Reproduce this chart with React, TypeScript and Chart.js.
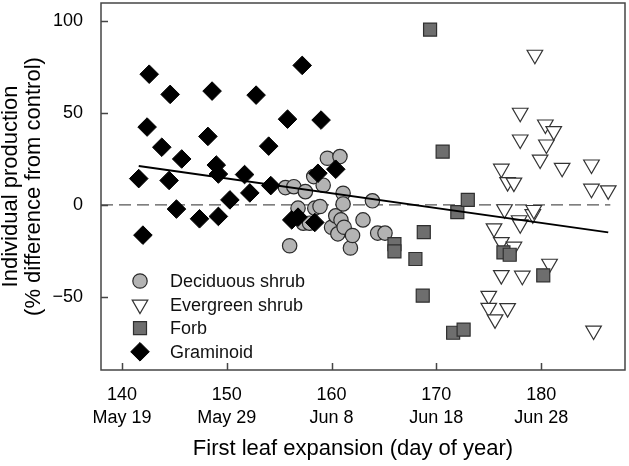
import React, { useEffect, useRef } from "react";
import { Chart, registerables } from "chart.js";
import { drawPoint } from "chart.js/helpers";

Chart.register(...registerables);

// ---- data (day of year, % difference from control) ----
const deciduous: [number, number][] = [
  [155.6, 9.4], [156.4, 9.9], [157.5, 7.2], [156.8, -1.8], [156.0, -22.3],
  [157.3, -10], [157.9, -10], [158.3, 15.4], [158.4, -1.8], [158.9, -0.9],
  [159.2, 10.7], [159.6, 25.4], [160.0, -12.2], [160.4, -6], [160.6, -15.8],
  [160.8, 26.3], [160.9, -8.2], [161.1, 6.3], [161.1, 0.5], [161.2, -12.2],
  [161.8, -23.5], [162.0, -16.7], [163.0, -8.2], [163.9, 2.2], [164.4, -15.4],
  [165.1, -15.4],
];

const evergreen: [number, number][] = [
  [175.0, -49.6], [175.0, -56.1], [175.5, -12.8], [175.6, -62.4], [176.2, 19.7],
  [176.2, -20.3], [176.2, -38.3], [176.5, -2.4], [176.8, 12.4], [176.8, -56.3],
  [177.4, 12.1], [177.4, -22.8], [177.9, -8.4], [178.0, 50.2], [178.0, 35.6],
  [178.0, -10.6], [178.2, -38.6], [179.2, -5.1], [179.3, -2.8], [179.4, 81.8],
  [179.9, 24.7], [180.4, 43.8], [180.5, 32.9], [180.8, -32.1], [181.2, 40.2],
  [182.0, 20.2], [184.8, 22.0], [184.8, 8.8], [185.0, -68.5], [186.4, 7.9],
];

const forb: [number, number][] = [
  [166.0, -21.4], [166.0, -25.4], [168.0, -29.5], [168.7, -49.5], [168.8, -14.9],
  [169.4, 95.5], [170.6, 29], [171.6, -69.7], [172.0, -4], [172.6, -68],
  [173.0, 2.7], [176.4, -25.9], [177.0, -27.2], [180.2, -38.4],
];

const graminoid: [number, number][] = [
  [141.6, 14.3], [142.0, -16.5], [142.4, 42.4], [142.6, 71.2], [143.8, 31.4],
  [144.5, 13.3], [144.6, 60.2], [145.2, -2.3], [145.7, 25], [147.4, -7.6],
  [148.2, 37.3], [148.6, 62], [149.0, 21.7], [149.2, 16.8], [149.2, -6.3],
  [150.3, 2.7], [151.7, 16.5], [152.2, 6.5], [152.8, 59.8], [154.0, 32],
  [154.2, 10.5], [155.8, 46.7], [156.2, -8.2], [156.8, -6.7], [157.2, 76],
  [158.4, -9.6], [158.7, 17.2], [159.0, 46.2], [160.4, 19.4],
];

const regressionLine: [number, number][] = [[141.6, 21.2], [186.4, -15.0]];
const zeroLine: [number, number][] = [[138, 0], [186.6, 0]];

const xTicks = [140, 150, 160, 170, 180];
const xDateLabels = ["May 19", "May 29", "Jun 8", "Jun 18", "Jun 28"];
const yTicks = [-50, 0, 50, 100];
const xRange = [138, 188];
const yRange = [-90, 110];

const seriesNames = ["Deciduous shrub", "Evergreen shrub", "Forb", "Graminoid"];
const xTitle = "First leaf expansion (day of year)";
const yTitle = ["Individual production", "(% difference from control)"];

const FONT = "'Liberation Sans', Arial, Helvetica, sans-serif";

const toXY = (arr: [number, number][]) => arr.map(([x, y]) => ({ x, y }));

const markerStyles = [
  { pointStyle: "circle", radius: 7.2, rotation: 0, fill: "#b3b3b3", stroke: "#2a2a2a", bw: 1.2 },
  { pointStyle: "triangle", radius: 9, rotation: 180, fill: "#ffffff", stroke: "#333333", bw: 1.2 },
  { pointStyle: "rect", radius: 9.2, rotation: 0, fill: "#6e6e6e", stroke: "#2f2f2f", bw: 1.2 },
  { pointStyle: "rectRot", radius: 9.3, rotation: 0, fill: "#000000", stroke: "#000000", bw: 1 },
];

const framePlugin = {
  id: "frameAndLegend",
  afterDraw(chart: any) {
    const { ctx, chartArea: a, scales } = chart;
    ctx.save();
    // frame
    ctx.strokeStyle = "#454545";
    ctx.lineWidth = 1.5;
    ctx.strokeRect(a.left, a.top, a.right - a.left, a.bottom - a.top);
    // inward ticks
    ctx.beginPath();
    for (const v of xTicks) {
      const px = Math.round(scales.x.getPixelForValue(v)) + 0.5;
      ctx.moveTo(px, a.bottom);
      ctx.lineTo(px, a.bottom - 7);
    }
    for (const v of yTicks) {
      const py = Math.round(scales.y.getPixelForValue(v)) + 0.5;
      ctx.moveTo(a.left, py);
      ctx.lineTo(a.left + 7, py);
    }
    ctx.stroke();

    // x axis title
    ctx.fillStyle = "#000";
    ctx.font = `22px ${FONT}`;
    ctx.textAlign = "center";
    ctx.textBaseline = "middle";
    ctx.fillText(xTitle, a.left + 252, a.bottom + 79);

    // legend
    const lx = a.left + 39;
    const ly0 = a.bottom - 89;
    const step = 23.6;
    ctx.font = `18px ${FONT}`;
    ctx.textBaseline = "middle";
    ctx.textAlign = "left";
    seriesNames.forEach((name, i) => {
      const m = markerStyles[i];
      const y = ly0 + i * step;
      ctx.fillStyle = m.fill;
      ctx.strokeStyle = m.stroke;
      ctx.lineWidth = m.bw;
      drawPoint(ctx, { pointStyle: m.pointStyle as any, radius: m.radius, rotation: m.rotation, borderWidth: m.bw }, lx, y);
      ctx.fillStyle = "#111";
      ctx.fillText(name, lx + 30, y + 1);
    });
    ctx.restore();
  },
};

export default function App() {
  const ref = useRef<HTMLCanvasElement | null>(null);

  useEffect(() => {
    if (!ref.current) return;
    Chart.defaults.font.family = FONT;
    const pointDs = (i: number, data: [number, number][], order: number) => {
      const m = markerStyles[i];
      return {
        label: seriesNames[i],
        data: toXY(data),
        pointStyle: m.pointStyle,
        pointRadius: m.radius,
        pointRotation: m.rotation,
        pointBackgroundColor: m.fill,
        pointBorderColor: m.stroke,
        pointBorderWidth: m.bw,
        showLine: false,
        order,
      };
    };
    const chart = new Chart(ref.current, {
      type: "scatter",
      data: {
        datasets: [
          {
            label: "regression",
            data: toXY(regressionLine),
            showLine: true,
            borderColor: "#000",
            borderWidth: 2,
            pointRadius: 0,
            order: 0,
          } as any,
          pointDs(3, graminoid, 1),
          pointDs(2, forb, 2),
          pointDs(1, evergreen, 3),
          pointDs(0, deciduous, 4),
          {
            label: "zero",
            data: toXY(zeroLine),
            showLine: true,
            borderColor: "#555",
            borderWidth: 1.3,
            borderDash: [12, 6],
            pointRadius: 0,
            order: 5,
          } as any,
        ],
      },
      options: {
        animation: false,
        responsive: false,
        devicePixelRatio: 1,
        events: [],
        layout: { autoPadding: false, padding: { top: 3, right: 4, left: 0, bottom: 0 } } as any,
        plugins: { legend: { display: false }, tooltip: { enabled: false } },
        scales: {
          x: {
            type: "linear",
            min: xRange[0],
            max: xRange[1],
            grid: { display: false },
            border: { display: false },
            afterBuildTicks: (s: any) => {
              s.ticks = xTicks.map((v) => ({ value: v }));
            },
            afterFit: (s: any) => {
              s.height = 96;
              s.paddingLeft = 0;
              s.paddingRight = 0;
            },
            ticks: {
              color: "#000",
              font: { size: 18, lineHeight: 1.25 },
              padding: 6,
              maxRotation: 0,
              callback: (v: any) => {
                const i = xTicks.indexOf(Number(v));
                return [String(v), xDateLabels[i] ?? ""];
              },
            },
            title: { display: false },
          },
          y: {
            type: "linear",
            min: yRange[0],
            max: yRange[1],
            grid: { display: false },
            border: { display: false },
            afterBuildTicks: (s: any) => {
              s.ticks = yTicks.map((v) => ({ value: v }));
            },
            afterFit: (s: any) => {
              s.width = 101;
              s.paddingTop = 0;
              s.paddingBottom = 0;
            },
            ticks: {
              color: "#000",
              font: { size: 18 },
              padding: 10,
              callback: (v: any) => (Number(v) < 0 ? "\u2212" + Math.abs(Number(v)) : String(v)),
            },
            title: {
              display: true,
              text: yTitle,
              color: "#000",
              font: { size: 22, lineHeight: 1.02 },
              padding: { top: 0, bottom: 0 },
            },
          },
        },
      },
      plugins: [framePlugin],
    } as any);
    return () => chart.destroy();
  }, []);

  return (
    <div style={{ position: "fixed", left: 0, top: 0, width: 629, height: 466, background: "#fff" }}>
      <canvas ref={ref} width={629} height={466} />
    </div>
  );
}
